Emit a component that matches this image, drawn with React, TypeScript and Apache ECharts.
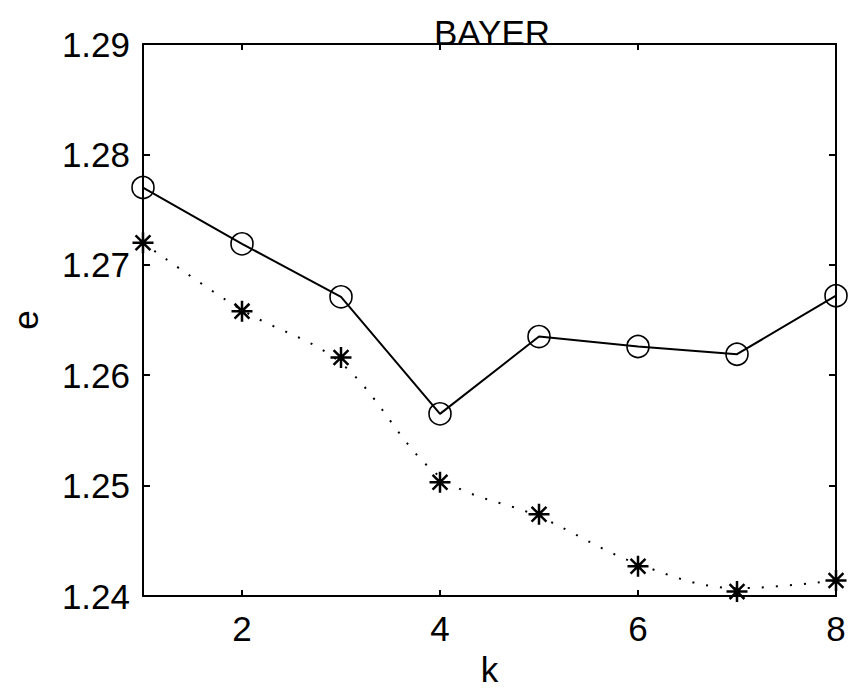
import React, { useEffect, useRef } from "react";
import * as echarts from "echarts";

// k values on the horizontal axis
const kValues = [1, 2, 3, 4, 5, 6, 7, 8];
// measured e (circles, solid line)
const circleSeries = [1.277, 1.2719, 1.2671, 1.2565, 1.2635, 1.2626, 1.2619, 1.2672];
// estimated e (stars)
const starSeries = [1.272, 1.2658, 1.2616, 1.2503, 1.2474, 1.2427, 1.2404, 1.2414];
// dotted trend curve through the stars
const trendSeries = [1.272, 1.2659, 1.2611, 1.2508, 1.2472, 1.2429, 1.2407, 1.2414];
// tick positions
const xTicks = [2, 4, 6, 8];
const yMin = 1.24;
const yMax = 1.29;
const yStep = 0.01;

const FONT = "Liberation Sans, Arial, Helvetica, sans-serif";
const STAR = "path://M0,-10L0,10M-10,0L10,0M-7.07,-7.07L7.07,7.07M-7.07,7.07L7.07,-7.07";

export default function App() {
  const ref = useRef<HTMLDivElement>(null);

  useEffect(() => {
    if (!ref.current) return;
    const chart = echarts.init(ref.current, null, { renderer: "svg" });
    const pair = (ys: number[]) => kValues.map((k, i) => [k, ys[i]]);
    const labelStyle = { color: "#000", fontFamily: FONT, fontSize: 35 };

    chart.setOption({
      animation: false,
      backgroundColor: "#fff",
      title: {
        text: "BAYER",
        left: 487,
        textAlign: "center",
        top: 10,
        textStyle: { ...labelStyle, fontWeight: "normal" },
      },
      grid: { left: 138, top: 44, width: 698, height: 553, containLabel: false },
      xAxis: [
        {
          type: "value",
          min: 1,
          max: 8,
          position: "bottom",
          name: "k",
          nameLocation: "middle",
          nameGap: 56,
          nameTextStyle: labelStyle,
          axisLine: { show: true, lineStyle: { color: "#000", width: 2 } },
          axisTick: { show: true, inside: true, length: 6, customValues: xTicks, lineStyle: { color: "#000", width: 2 } },
          axisLabel: { show: true, customValues: xTicks, margin: 15, ...labelStyle },
          splitLine: { show: false },
        },
        {
          type: "value",
          min: 1,
          max: 8,
          position: "top",
          axisLine: { show: true, lineStyle: { color: "#000", width: 2 } },
          axisTick: { show: true, inside: true, length: 6, customValues: xTicks, lineStyle: { color: "#000", width: 2 } },
          axisLabel: { show: false },
          splitLine: { show: false },
        },
      ],
      yAxis: [
        {
          type: "value",
          min: yMin,
          max: yMax,
          interval: yStep,
          position: "left",
          name: "e",
          nameLocation: "middle",
          nameRotate: 90,
          nameGap: 100,
          nameTextStyle: labelStyle,
          axisLine: { show: true, lineStyle: { color: "#000", width: 2 } },
          axisTick: { show: true, inside: true, length: 7, lineStyle: { color: "#000", width: 2 } },
          axisLabel: { margin: 13, formatter: (v: number) => v.toFixed(2), ...labelStyle },
          splitLine: { show: false },
        },
        {
          type: "value",
          min: yMin,
          max: yMax,
          interval: yStep,
          position: "right",
          axisLine: { show: true, lineStyle: { color: "#000", width: 2 } },
          axisTick: { show: true, inside: true, length: 7, lineStyle: { color: "#000", width: 2 } },
          axisLabel: { show: false },
          splitLine: { show: false },
        },
      ],
      series: [
        {
          type: "line",
          data: pair(trendSeries),
          smooth: 0.35,
          symbol: "none",
          clip: false,
          lineStyle: { color: "#000", width: 2, type: [2, 12], cap: "butt" },
          z: 1,
        },
        {
          type: "scatter",
          data: pair(starSeries),
          symbol: STAR,
          symbolSize: 21,
          clip: false,
          itemStyle: { color: "none", borderColor: "#000", borderWidth: 2.5, opacity: 1 },
          emphasis: { disabled: true },
          z: 3,
        },
        {
          type: "line",
          data: pair(circleSeries),
          symbol: "circle",
          symbolSize: 22,
          showAllSymbol: true,
          clip: false,
          lineStyle: { color: "#000", width: 2 },
          itemStyle: { color: "rgba(0,0,0,0)", borderColor: "#000", borderWidth: 1.6, opacity: 1 },
          emphasis: { disabled: true },
          z: 2,
        },
      ],
    });
    return () => chart.dispose();
  }, []);

  return (
    <div
      ref={ref}
      style={{ position: "fixed", left: 0, top: 0, width: 852, height: 692, background: "#fff" }}
    />
  );
}
